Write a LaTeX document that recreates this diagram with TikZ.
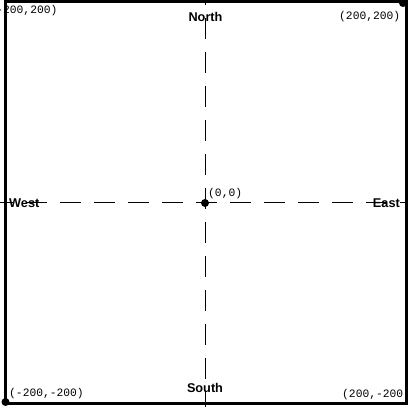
\documentclass[tikz,border=0pt]{standalone}
\usepackage{fontspec}
\usepackage{tikz}
\usetikzlibrary{positioning}
\newfontfamily\compassfont{Liberation Sans}
\newfontfamily\coordfont{Liberation Mono}

\begin{document}
\begin{tikzpicture}[x=1pt,y=1pt,
  dir/.style={inner sep=0pt,font=\compassfont\bfseries\fontsize{12.7}{14}\selectfont},
  crd/.style={inner sep=0pt,anchor=base west,font=\coordfont\fontsize{11.3}{13}\selectfont},
  axis/.style={line width=1pt,dash pattern=on 21pt off 13pt},
  dot/.style={circle,fill,inner sep=0pt,minimum size=8pt}]
\useasboundingbox (0,0) rectangle (408,407);
\clip (0,0) rectangle (408,407);
\draw[line width=3pt] (5,405.5) rectangle (406.5,3.5);
% axes
\coordinate (ntop) at (205.5,423);
\coordinate (sbot) at (205.5,0);
\coordinate (wend) at (-8,204);
\coordinate (eend) at (408,204);
\draw[axis] (ntop) -- (sbot);
\draw[axis] (wend) -- (eend);
% points
\node[dot] (o) at (205,204) {};
\node[dot] (tr) at (403,404) {};
\node[dot] (bl) at (5.5,5) {};
\node[crd] (lo) at (208,210.3) {(0,0)};
\node[crd] (ltl) at (-10.6,393) {(-200,200)};
\node[crd] (ltr) at (339,387.5) {(200,200)};
\node[crd] (lbl) at (9,10) {(-200,-200)};
\node[crd] (lbr) at (342,9.3) {(200,-200)};
% compass labels
\node[dir,anchor=base] (north) at (205.5,385) {North};
\node[dir,anchor=base] (south) at (205,14) {South};
\node[dir,anchor=base west] (west) at (9,199) {West};
\node[dir,anchor=base east] (east) at (400,199) {East};
\end{tikzpicture}
\end{document}
